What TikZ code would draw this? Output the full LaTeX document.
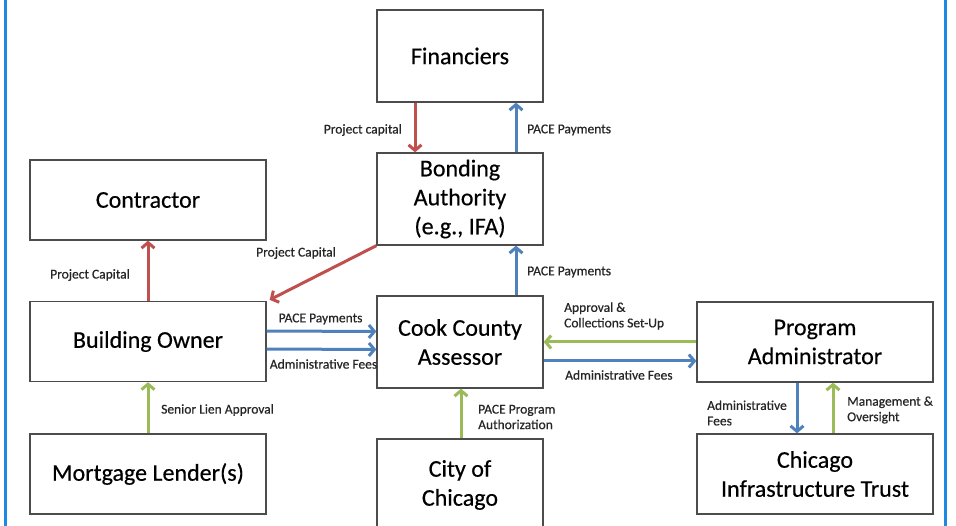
\documentclass[tikz,border=0pt]{standalone}
\usepackage{fontspec}
\setmainfont{Carlito}
\usetikzlibrary{arrows.meta,positioning}
\definecolor{capred}{HTML}{C0504D}
\definecolor{payblue}{HTML}{4F81BD}
\definecolor{okgreen}{HTML}{9BBB59}
\definecolor{frameblue}{HTML}{1E88E5}
\tikzset{
	box/.style={draw=black!70,line width=1.3pt,rectangle,align=center,font=\fontsize{24}{29}\selectfont\addfontfeature{FakeBold=0.4},text=black},
	wide/.style={minimum width=236pt,minimum height=80pt},
	narrow/.style={minimum width=166pt,minimum height=92pt},
	flow/.style={line width=3pt,-{Straight Barb[length=5.5pt,width=13pt]}},
	capital/.style={flow,draw=capred},
	payment/.style={flow,draw=payblue},
	approval/.style={flow,draw=okgreen},
	lbl/.style={font=\fontsize{13.5}{15.5}\selectfont\addfontfeature{FakeBold=0.6},text=black!85,align=left,inner sep=0pt}
}

\begin{document}
\begin{tikzpicture}[x=1pt,y=-1pt]
            \useasboundingbox (0,0) rectangle (956,526);
            \clip (0,0) rectangle (956,526);
            \draw[frameblue,line width=2.5pt] (5.7,0) -- (5.7,526);
            \draw[frameblue,line width=2.5pt] (945.5,0) -- (945.5,526);
            \node[box,narrow] (fin) at (460,56) {Financiers};
            \node[box,narrow] (bond) at (460,199) {Bonding\\Authority\\(e.g., IFA)};
            \node[box,wide] (contr) at (148,200) {Contractor};
            \node[box,wide] (owner) at (148,341.5) {Building Owner};
            \node[box,wide] (lender) at (148,474) {Mortgage Lender(s)};
            \node[box,narrow] (cook) at (460,342) {Cook County\\Assessor};
            \node[box,narrow] (city) at (460,485) {City of\\Chicago};
            \node[box,wide] (admin) at (815,342) {Program\\Administrator};
            \node[box,wide] (trust) at (815,474) {Chicago\\Infrastructure Trust};
            \draw[capital] ([xshift=-45pt]fin.south) -- ([xshift=-45pt]bond.north);
            \draw[payment] ([xshift=56pt]bond.north) -- ([xshift=56pt]fin.south);
            \draw[capital] (owner.north) -- (contr.south);
            \draw[capital] (bond.south west) -- ([shift={(3pt,1pt)}]owner.north east);
            \draw[payment] ([yshift=10.5pt]owner.east) -- ([yshift=10.5pt]cook.west);
            \draw[payment] ([yshift=-7.5pt]owner.east) -- ([yshift=-7.5pt]cook.west);
            \draw[payment] ([xshift=56pt]cook.north) -- ([xshift=56pt]bond.south);
            \draw[approval] (admin.west) -- (cook.east);
            \draw[payment] ([yshift=-19pt]cook.east) -- ([yshift=-19pt]admin.west);
            \draw[approval] (lender.north) -- (owner.south);
            \draw[approval] ([xshift=1pt]city.north) -- ([xshift=1pt]cook.south);
            \draw[payment] ([xshift=-18pt]admin.south) -- ([xshift=-18pt]trust.north);
            \draw[approval] ([xshift=18pt]trust.north) -- ([xshift=18pt]admin.south);
            \node[lbl,anchor=east] (lcapa) at (402,130) {Project capital};
            \node[lbl,anchor=west] (lpaya) at (527,130) {PACE Payments};
            \node[lbl] (lcapb) at (90,275) {Project Capital};
            \node[lbl] (lcapc) at (296,253) {Project Capital};
            \node[lbl,anchor=west] (lpayb) at (527,272) {PACE Payments};
            \node[lbl] (lpayc) at (320.5,319) {PACE Payments};
            \node[lbl] (lfeea) at (323.5,364) {Administrative Fees};
            \node[lbl,anchor=west] (lappr) at (564,316) {Approval \&\\Collections Set-Up};
            \node[lbl,anchor=west] (lfeeb) at (565,375) {Administrative Fees};
            \node[lbl,anchor=west] (lsen) at (161,410) {Senior Lien Approval};
            \node[lbl,anchor=west] (lauth) at (478,417) {PACE Program\\Authorization};
            \node[lbl,anchor=west] (lfeec) at (707,413) {Administrative\\Fees};
            \node[lbl,anchor=west] (lmgmt) at (847,410) {Management \&\\Oversight};
        \end{tikzpicture}
\end{document}
